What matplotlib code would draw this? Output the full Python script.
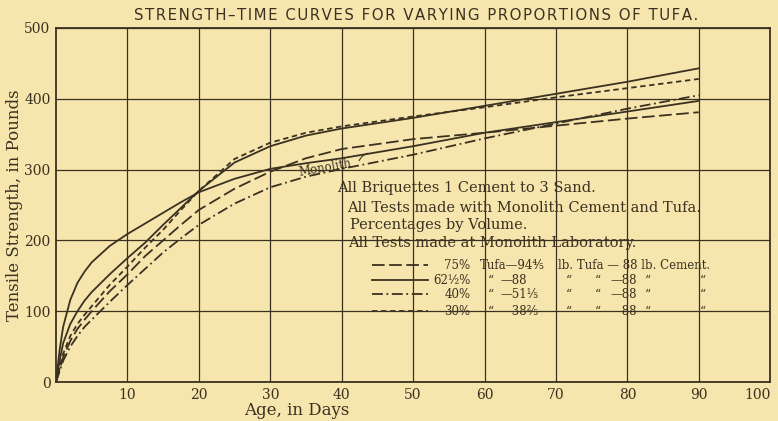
import matplotlib
matplotlib.use("Agg")
import matplotlib.pyplot as plt

# curve readings (days, pounds)
days = [0, 0.5, 1, 2, 3, 4, 5, 7.5, 10, 12.5, 15, 17.5, 20, 25, 30, 35, 40, 50, 60, 70, 80, 90]
monolith = [0, 45, 78, 116, 140, 156, 169, 192, 209, 224, 239, 254, 268, 287, 301, 309, 316, 333, 352, 367, 382, 397]
tufa_62 = [0, 30, 55, 82, 100, 115, 127, 152, 175, 197, 222, 246, 270, 310, 333, 348, 358, 373, 390, 407, 424, 443]
tufa_30 = [0, 20, 40, 65, 82, 95, 107, 137, 163, 190, 215, 243, 270, 315, 338, 352, 361, 375, 388, 402, 415, 428]
tufa_75 = [0, 18, 35, 58, 75, 88, 100, 128, 152, 178, 200, 222, 243, 273, 297, 316, 329, 343, 352, 362, 372, 381]
tufa_40 = [0, 15, 30, 50, 65, 78, 88, 113, 137, 160, 183, 203, 222, 252, 275, 290, 301, 321, 344, 365, 386, 405]

x_ticks = [10, 20, 30, 40, 50, 60, 70, 80, 90, 100]
y_ticks = [0, 100, 200, 300, 400, 500]

legend_pct = ["75%", "62½%", "40%", "30%"]
legend_tufa = ["Tufa—94⅘", "—88", "—51⅕", "—38⅖"]

notes = ["All Briquettes 1 Cement to 3 Sand.",
         "All Tests made with Monolith Cement and Tufa.",
         "Percentages by Volume.",
         "All Tests made at Monolith Laboratory."]

title = "STRENGTH–TIME CURVES FOR VARYING PROPORTIONS OF TUFA."

paper = "#f6e5ad"
ink = "#3b3121"
serif = ["DejaVu Serif"]

plt.rcParams["font.family"] = serif

fig = plt.figure(figsize=(7.78, 4.21), dpi=100, facecolor=paper)
ax = fig.add_axes([0.072, 0.0926, 0.918, 0.841], facecolor=paper)

lw = 1.3
styles = {
    "75": dict(dashes=(7, 2.5)),
    "62": dict(linestyle="-"),
    "40": dict(dashes=(6, 2, 1, 2)),
    "30": dict(dashes=(3, 2)),
}

ax.plot(days, monolith, color=ink, lw=lw)
ax.plot(days, tufa_62, color=ink, lw=lw, **styles["62"])
ax.plot(days, tufa_30, color=ink, lw=lw, **styles["30"])
ax.plot(days, tufa_75, color=ink, lw=lw, **styles["75"])
ax.plot(days, tufa_40, color=ink, lw=lw, **styles["40"])

ax.set_xlim(0, 100)
ax.set_ylim(0, 500)
ax.set_xticks(x_ticks)
ax.set_yticks(y_ticks)
ax.grid(True, color=ink, lw=0.9)
ax.set_axisbelow(True)
ax.tick_params(length=0, labelsize=10, colors=ink, pad=4)
for s in ax.spines.values():
    s.set_color(ink)
    s.set_linewidth(1.3)
ax.get_xticklabels()[-1].set_ha("right")

fig.text(0.382, 0.026, "Age, in Days", fontsize=12, color=ink, ha="center", va="center")
fig.text(0.018, 0.513, "Tensile Strength, in Pounds", rotation=90, fontsize=12,
         color=ink, ha="center", va="center")
fig.text(0.535, 0.963, "\u200a".join(title), fontsize=10.8, color=ink,
         ha="center", va="center", family=["DejaVu Sans"])

# Monolith label with leader
ax.text(37.7, 302, "Monolith", fontsize=8.5, color=ink, rotation=10,
        ha="center", va="center")
ax.annotate("", xy=(44.0, 324), xytext=(42.3, 309),
            arrowprops=dict(arrowstyle="-", color=ink, lw=0.8,
                            connectionstyle="arc3,rad=-0.3"))

# notes
note_x = [39.4, 40.8, 41.2, 40.9]
note_y = [274, 246, 222, 196]
for t, x, y in zip(notes, note_x, note_y):
    ax.text(x, y, t, fontsize=10.5, color=ink, ha="left", va="center")

# legend rows
row_y = [165, 144, 124, 100]
row_style = [styles["75"], styles["62"], styles["40"], styles["30"]]
fs = 8.5
for i, (pct, tf, y, st) in enumerate(zip(legend_pct, legend_tufa, row_y, row_style)):
    ax.plot([44.3, 52.1], [y, y], color=ink, lw=lw, **st)
    ax.text(58.0, y, pct, fontsize=fs, color=ink, ha="right", va="center")
    if i == 0:
        ax.text(59.4, y, tf, fontsize=fs, color=ink, ha="left", va="center")
        ax.text(70.3, y, "lb. Tufa — 88 lb. Cement.", fontsize=fs, color=ink,
                ha="left", va="center")
    else:
        ax.text(60.5, y, "“", fontsize=fs, color=ink, ha="left", va="center")
        ax.text(62.2, y, tf, fontsize=fs, color=ink, ha="left", va="center")
        ax.text(71.4, y, "“", fontsize=fs, color=ink, ha="left", va="center")
        ax.text(75.4, y, "“", fontsize=fs, color=ink, ha="left", va="center")
        ax.text(77.6, y, "—88", fontsize=fs, color=ink, ha="left", va="center")
        ax.text(82.5, y, "“", fontsize=fs, color=ink, ha="left", va="center")
        ax.text(90.2, y, "“", fontsize=fs, color=ink, ha="left", va="center")

fig.savefig("out.png", dpi=100, facecolor=paper)
